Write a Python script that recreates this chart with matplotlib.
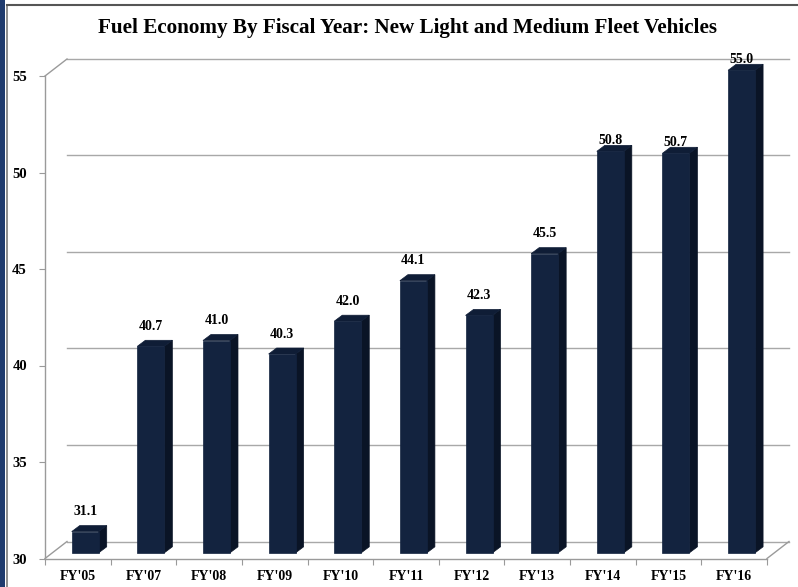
import matplotlib
matplotlib.use("Agg")
import numpy as np
import matplotlib.pyplot as plt
from matplotlib.patches import Polygon, Rectangle
from matplotlib.lines import Line2D

# ---------------- data ----------------
categories = ["FY'05", "FY'07", "FY'08", "FY'09", "FY'10", "FY'11",
              "FY'12", "FY'13", "FY'14", "FY'15", "FY'16"]
mpg = [31.1, 40.7, 41.0, 40.3, 42.0, 44.1, 42.3, 45.5, 50.8, 50.7, 55.0]
yticks = [30, 35, 40, 45, 50, 55]
title = "Fuel Economy By Fiscal Year: New Light and Medium Fleet Vehicles"

# ---------------- style ----------------
SERIF = ["Liberation Serif", "DejaVu Serif"]
FRONT = "#13233f"
SIDE = "#0a1426"
TOP = "#0f1d36"
GRID = "#a8a8a8"
AXIS = "#9a9a9a"

W, H = 798, 587
fig = plt.figure(figsize=(W / 100, H / 100), dpi=100)
fig.patch.set_facecolor("white")

# front plane of the 3D box (pixel placement of the axes)
x0, x1 = 45, 767
yb, yt = 558.5, 76
ax = fig.add_axes([x0 / W, 1 - yb / H, (x1 - x0) / W, (yb - yt) / H])
n = len(categories)
ymin, ymax = yticks[0], yticks[-1]
ax.set_xlim(-0.5, n - 0.5)
ax.set_ylim(ymin, ymax)
ax.set_facecolor("none")

sx = (x1 - x0) / n              # pixels per category
sy = (yb - yt) / (ymax - ymin)  # pixels per unit


def px(dx, dy):
    return dx / sx, dy / sy


# back wall offset
bx, by = px(22, 17)
# gridlines on back wall
for t in yticks:
    ax.add_line(Line2D([-0.5 + bx, n - 0.5 + bx], [t + by, t + by],
                       color=GRID, lw=1.0, clip_on=False, zorder=1))
# depth edges
for (xx, yy) in [(-0.5, ymax), (-0.5, ymin), (n - 0.5, ymin)]:
    ax.add_line(Line2D([xx, xx + bx], [yy, yy + by], color=AXIS, lw=1.0,
                       clip_on=False, zorder=1))

# spines / ticks
for s in ["top", "right"]:
    ax.spines[s].set_visible(False)
for s in ["left", "bottom"]:
    ax.spines[s].set_color(AXIS)
    ax.spines[s].set_linewidth(1.0)

ax.set_yticks(yticks)
ax.set_yticklabels([str(t) for t in yticks], fontfamily=SERIF,
                   fontweight="bold", fontsize=10.5)
ax.tick_params(axis="y", direction="out", length=4, color=AXIS, pad=9,
               labelcolor="black")
ax.set_xticks(np.arange(n + 1) - 0.5)
ax.set_xticklabels([])
ax.tick_params(axis="x", which="major", direction="out", length=4, color=AXIS)
ax.set_xticks(np.arange(n), minor=True)
ax.set_xticklabels(categories, minor=True, fontfamily=SERIF,
                   fontweight="bold", fontsize=10)
ax.tick_params(axis="x", which="minor", length=0, pad=8, labelcolor="black")

# bars (3D look)
ox, oy = px(7.4, 5.7)
dx, dy = px(8, 6)
w = 27 / sx
for i, v in enumerate(mpg):
    fx0, fx1 = i - w / 2 + ox, i + w / 2 + ox
    fy0, fy1 = ymin + oy, v + oy
    side = Polygon([(fx1, fy0), (fx1 + dx, fy0 + dy), (fx1 + dx, fy1 + dy), (fx1, fy1)],
                   closed=True, facecolor=SIDE, edgecolor=SIDE, lw=0.5,
                   clip_on=False, zorder=3)
    top = Polygon([(fx0, fy1), (fx1, fy1), (fx1 + dx, fy1 + dy), (fx0 + dx, fy1 + dy)],
                  closed=True, facecolor=TOP, edgecolor=TOP, lw=0.5,
                  clip_on=False, zorder=3)
    front = Polygon([(fx0, fy0), (fx1, fy0), (fx1, fy1), (fx0, fy1)],
                    closed=True, facecolor=FRONT, edgecolor=FRONT, lw=0.5,
                    clip_on=False, zorder=4)
    for p in (side, top, front):
        ax.add_patch(p)
    gap = 11 if v >= 50 else 20
    ax.text(i + ox, v + oy + px(0, gap)[1], f"{v:.1f}", ha="center", va="center",
            fontfamily=SERIF, fontweight="bold", fontsize=10, color="black",
            zorder=5, clip_on=False)

# title
fig.text(407 / W, 1 - 28 / H, title, ha="center", va="center",
         fontfamily=SERIF, fontweight="bold", fontsize=15.2, color="black")

# outer frame decoration
fig.add_artist(Rectangle((0, 0), 5 / W, 1, transform=fig.transFigure,
                         facecolor="#1f3b6e", edgecolor="none"))
fig.add_artist(Line2D([7 / W, 7 / W], [0, 1 - 5 / H], transform=fig.transFigure,
                      color="#7a7a7a", lw=1.2))
fig.add_artist(Line2D([7 / W, 1], [1 - 5 / H, 1 - 5 / H], transform=fig.transFigure,
                      color="#555555", lw=1.5))

fig.savefig("out.png", dpi=100)
